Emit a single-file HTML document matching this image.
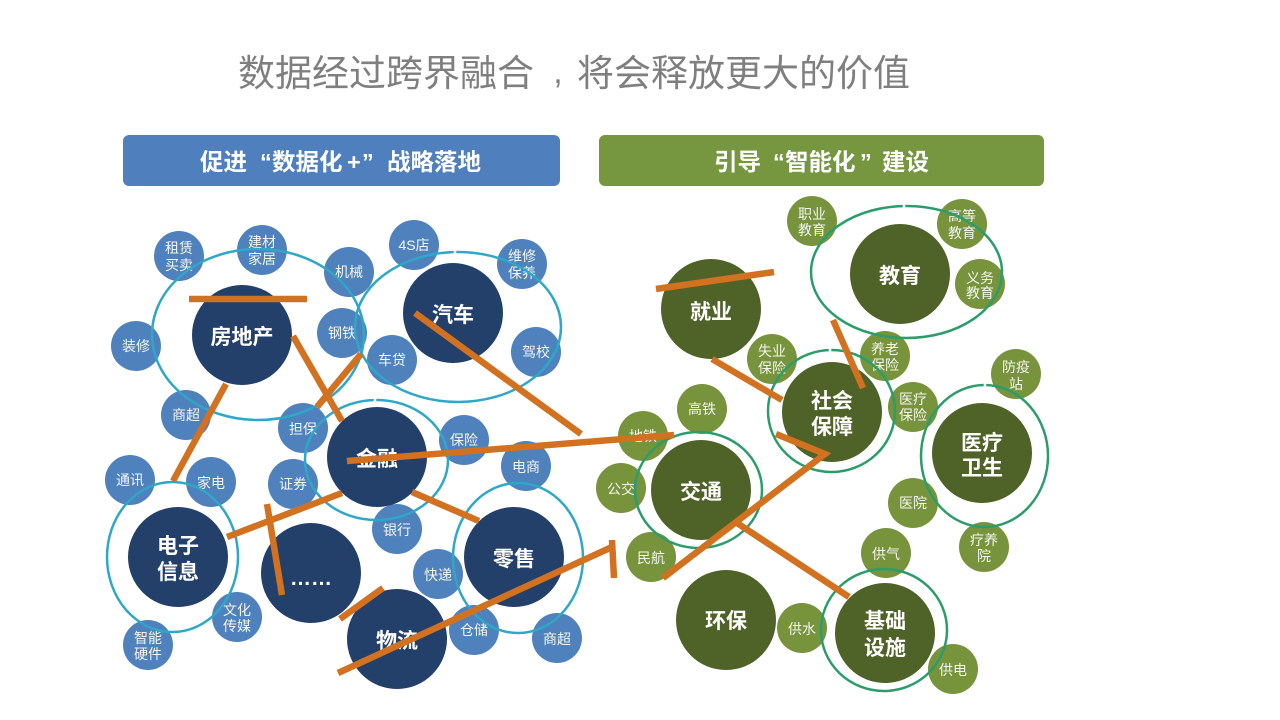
<!DOCTYPE html>
<html><head><meta charset="utf-8"><style>
html,body{margin:0;padding:0;background:#fff;width:1280px;height:720px;overflow:hidden}
svg{display:block}
text{font-family:"Liberation Sans","Noto Sans CJK SC",sans-serif;text-anchor:middle}
.s{font-size:14px;fill:#f4f6f0}
.b{font-size:21px;font-weight:700;fill:#fff}
.h{font-size:23.5px;font-weight:700;fill:#fff;text-anchor:start}
.t{font-size:37px;fill:#7f7f7f;text-anchor:start}
.r{fill:none;stroke:#2ea7c8;stroke-width:2.5}
.g{fill:none;stroke:#2a9d6b;stroke-width:2.5}
.l{stroke:#d2711f;stroke-width:6.5;fill:none}
</style></head><body>
<svg width="1280" height="720" viewBox="0 0 1280 720" xmlns="http://www.w3.org/2000/svg">
<text class="t" x="238" y="86">数据经过跨界融合</text>
<text x="558" y="83" style="font-size:34px;fill:#7f7f7f">,</text>
<text class="t" x="577" y="86">将会释放更大的价值</text>
<rect x="123" y="135" width="437" height="51" rx="6" fill="#4f7fbd"/>
<rect x="599" y="135" width="445" height="51" rx="6" fill="#76963f"/>
<text class="h" x="200" y="170">促进</text><text class="h" x="260" y="170">“</text><text class="h" x="272" y="170">数据化</text>
<text class="h" x="347" y="170">+</text><text class="h" x="362" y="170">”</text><text class="h" x="387" y="170">战略落地</text>
<text class="h" x="714" y="170">引导</text><text class="h" x="773" y="170">“</text><text class="h" x="785" y="170">智能化</text>
<text class="h" x="860" y="170">”</text><text class="h" x="882" y="170">建设</text>

<g fill="#4f81bd">
<circle cx="179" cy="256" r="25"/><circle cx="262" cy="250" r="25"/><circle cx="349" cy="272" r="25"/><circle cx="414" cy="245" r="25"/>
<circle cx="522" cy="264" r="25"/><circle cx="342" cy="333" r="25"/><circle cx="392" cy="360" r="25"/><circle cx="536" cy="352" r="25"/>
<circle cx="136" cy="346" r="25"/><circle cx="186" cy="415" r="25"/><circle cx="303" cy="428" r="25"/><circle cx="464" cy="440" r="25"/>
<circle cx="130" cy="480" r="25"/><circle cx="211" cy="482" r="25"/><circle cx="293" cy="484" r="25"/><circle cx="526" cy="466" r="25"/>
<circle cx="397" cy="529" r="25"/><circle cx="438" cy="574" r="25"/><circle cx="237" cy="617" r="25"/><circle cx="148" cy="645" r="25"/>
<circle cx="474" cy="630" r="25"/><circle cx="557" cy="638" r="25"/>
</g>
<g fill="#77933c">
<circle cx="812" cy="221" r="25"/><circle cx="962" cy="224" r="25"/><circle cx="980" cy="284" r="25"/><circle cx="772" cy="359" r="25"/>
<circle cx="885" cy="356" r="25"/><circle cx="913" cy="407" r="25"/><circle cx="1016" cy="374" r="25"/><circle cx="702" cy="409" r="25"/>
<circle cx="643" cy="436" r="25"/><circle cx="621" cy="488" r="25"/><circle cx="651" cy="557" r="25"/><circle cx="913" cy="503" r="25"/>
<circle cx="984" cy="547" r="25"/><circle cx="886" cy="553" r="25"/><circle cx="802" cy="628" r="25"/><circle cx="953" cy="669" r="25"/>
</g>
<g>
<text class="s" x="179" y="253">租赁</text><text class="s" x="179" y="270">买卖</text>
<text class="s" x="262" y="247">建材</text><text class="s" x="262" y="264">家居</text>
<text class="s" x="349" y="277">机械</text><text class="s" x="414" y="250">4S店</text>
<text class="s" x="522" y="261">维修</text><text class="s" x="522" y="278">保养</text>
<text class="s" x="342" y="338">钢铁</text><text class="s" x="392" y="365">车贷</text><text class="s" x="536" y="357">驾校</text>
<text class="s" x="136" y="351">装修</text><text class="s" x="186" y="420">商超</text><text class="s" x="303" y="434">担保</text>
<text class="s" x="464" y="445">保险</text><text class="s" x="130" y="485">通讯</text><text class="s" x="211" y="488">家电</text>
<text class="s" x="293" y="489">证券</text><text class="s" x="526" y="472">电商</text><text class="s" x="397" y="535">银行</text>
<text class="s" x="438" y="580">快递</text>
<text class="s" x="237" y="615">文化</text><text class="s" x="237" y="631">传媒</text>
<text class="s" x="148" y="643">智能</text><text class="s" x="148" y="659">硬件</text>
<text class="s" x="474" y="635">仓储</text><text class="s" x="557" y="644">商超</text>
<text class="s" x="812" y="219">职业</text><text class="s" x="812" y="235">教育</text>
<text class="s" x="962" y="221">高等</text><text class="s" x="962" y="238">教育</text>
<text class="s" x="980" y="283">义务</text><text class="s" x="980" y="298">教育</text>
<text class="s" x="772" y="356">失业</text><text class="s" x="772" y="373">保险</text>
<text class="s" x="885" y="354">养老</text><text class="s" x="885" y="370">保险</text>
<text class="s" x="913" y="404">医疗</text><text class="s" x="913" y="420">保险</text>
<text class="s" x="1016" y="372">防疫</text><text class="s" x="1016" y="389">站</text>
<text class="s" x="702" y="414">高铁</text><text class="s" x="643" y="441">地铁</text><text class="s" x="621" y="494">公交</text>
<text class="s" x="651" y="563">民航</text><text class="s" x="913" y="508">医院</text>
<text class="s" x="984" y="545">疗养</text><text class="s" x="984" y="561">院</text>
<text class="s" x="886" y="559">供气</text><text class="s" x="802" y="634">供水</text><text class="s" x="953" y="675">供电</text>
</g>

<ellipse class="r" cx="258" cy="334.5" rx="106" ry="85.5"/>
<ellipse class="r" cx="458" cy="327" rx="103" ry="75"/>
<ellipse class="r" cx="376.5" cy="460" rx="71.5" ry="60"/>
<ellipse class="r" cx="172.5" cy="557" rx="65.5" ry="75"/>
<ellipse class="r" cx="518" cy="558" rx="65" ry="75"/>
<ellipse class="g" cx="906.5" cy="272" rx="95.5" ry="66"/>
<ellipse class="g" cx="831.5" cy="411" rx="63.5" ry="61"/>
<ellipse class="g" cx="984.5" cy="456" rx="63.5" ry="71"/>
<ellipse class="g" cx="698.5" cy="490" rx="63.5" ry="58"/>
<ellipse class="g" cx="884" cy="630" rx="63" ry="61"/>
<g stroke="#fff" stroke-width="2.5">
<path d="M455 250v4M375 398v4M904 204v4M830 348v4M985 383v4"/>
</g>

<g fill="#23406b">
<circle cx="242" cy="335" r="50"/><circle cx="453" cy="313" r="50"/><circle cx="377" cy="457" r="50"/>
<circle cx="178" cy="557" r="50"/><circle cx="514" cy="557" r="50"/><circle cx="311" cy="573" r="50"/><circle cx="397" cy="639" r="50"/>
</g>
<g fill="#4f6228">
<circle cx="711" cy="309" r="50"/><circle cx="900" cy="274" r="50"/><circle cx="832" cy="412" r="50"/>
<circle cx="982" cy="453" r="50"/><circle cx="701" cy="490" r="50"/><circle cx="726" cy="620" r="50"/><circle cx="885" cy="633" r="50"/>
</g>

<g>
<text class="b" x="242" y="344">房地产</text><text class="b" x="453" y="322">汽车</text><text class="b" x="377" y="466">金融</text>
<text class="b" x="178" y="553">电子</text><text class="b" x="178" y="579">信息</text><text class="b" x="514" y="566">零售</text>
<text class="b" x="311" y="585">……</text><text class="b" x="397" y="648">物流</text>
<text class="b" x="711" y="319">就业</text><text class="b" x="900" y="283">教育</text><text class="b" x="832" y="408">社会</text><text class="b" x="832" y="434">保障</text>
<text class="b" x="982" y="450">医疗</text><text class="b" x="982" y="475">卫生</text><text class="b" x="701" y="499">交通</text><text class="b" x="726" y="628">环保</text>
<text class="b" x="885" y="628">基础</text><text class="b" x="885" y="655">设施</text>
</g>
<g class="l">
<path d="M189 299H307"/><path d="M293 336L342 421"/><path d="M361 354L317 407"/>
<path d="M226 384L173 481"/><path d="M415 313L581 434"/><path d="M347 461L674 435"/>
<path d="M227 537L342 493"/><path d="M412 492L479 521"/><path d="M267 504L282 595"/>
<path d="M340 619L383 588"/><path d="M338 673L612 547"/><path d="M612 540L614 578"/>
<path d="M656 289L774 272"/><path d="M833 320L863 388"/><path d="M712 359L782 400"/>
<path d="M776 434L825 454L663 578"/><path d="M737 523L849 597"/>
</g>
</svg>
</body></html>
